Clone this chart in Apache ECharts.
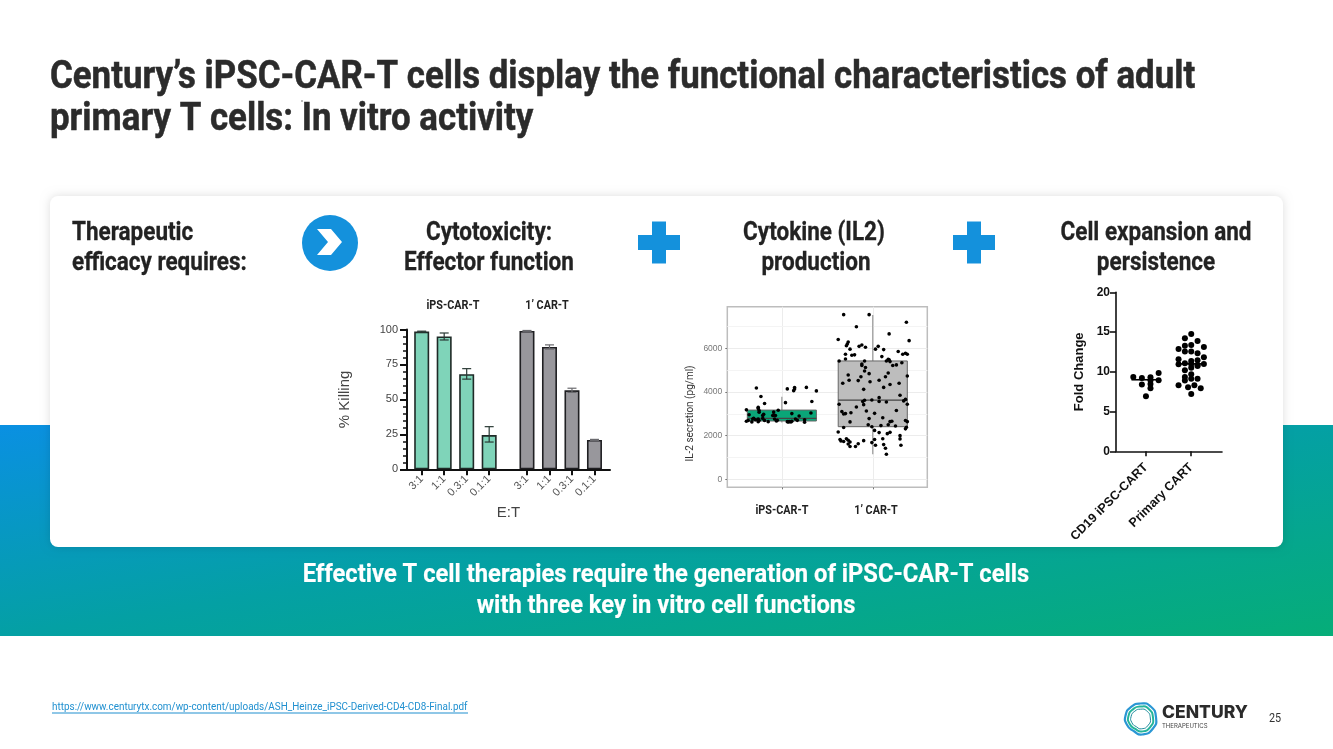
<!DOCTYPE html>
<html><head><meta charset="utf-8">
<style>html,body{margin:0;padding:0;background:#fff}#c{width:1333px;height:749px}</style>
<script src="https://cdn.jsdelivr.net/npm/echarts@6/dist/echarts.min.js"></script>
</head><body><div id="c"></div>
<script>
// ---- killing bar chart ----
const ratioLabels = ['3:1','1:1','0.3:1','0.1:1','3:1','1:1','0.3:1','0.1:1'];
const barPositions = [0,1,2,3,4.68,5.68,6.68,7.68];
const ipsKilling = [98.5,95,68,24.5];
const priKilling = [99,87.5,56.5,21];
const ipsErrLow = [98.2,92.5,64.5,19.5];
const ipsErrHigh = [98.8,97.5,72,30.5];
const priErrLow = [98.7,86,55,20.6];
const priErrHigh = [99.3,89,58,21.4];
// ---- IL-2 box plot ----
const boxGroups = [1,2];
const boxTicks = [0,2000,4000,6000];
const boxLow = [2600,1150];
const boxQ1 = [2670,2410];
const boxMedian = [2790,3630];
const boxQ3 = [3170,5420];
const boxHigh = [3780,7530];
const boxMinorLines = [1000,3000,5000,7000];
const il2Ips = [[.72,4180],[.77,3790],[.81,3470],[.74,3300],[.74,3240],[.75,3150],[.61,3180],[.64,2960],[.75,3070],[.80,2980],[.79,2920],[.69,2790],[.61,2660],[.63,2690],[.67,2630],[.68,2760],[.74,2760],[.74,2640],[.75,2690],[.81,2690],[.85,2640],[.91,3080],[.91,2950],[.90,2920],[.93,2920],[.96,3160],[1.04,3510],[1.06,4140],[1.14,4140],[1.14,4200],[1.13,4060],[1.27,4210],[1.38,4050],[1.33,3560],[1.32,3040],[1.19,2900],[1.11,3010],[1.15,2760],[1.17,2700],[1.11,2660],[1.10,2630],[1.06,2640],[.94,2670],[.92,2760],[.95,2700],[1.25,2730],[1.25,2610],[1.07,2630],[1.08,2640],[.71,2730],[.79,2790]];
const il2Pri = [[1.68,7540],[1.96,7540],[1.82,6990],[2.37,7190],[1.62,6400],[2.18,6660],[2.40,6350],[1.72,6200],[1.73,6290],[1.71,6120],[1.88,6150],[1.85,6090],[1.92,6050],[2.06,6090],[2.12,5940],[2.03,5960],[1.75,5960],[1.70,5730],[1.70,5510],[1.77,5680],[1.80,5700],[1.63,5420],[1.91,5420],[1.88,5280],[1.88,5210],[1.92,5120],[1.91,4960],[1.96,4840],[1.87,4700],[1.73,4780],[1.74,4540],[1.67,4400],[1.84,4520],[1.97,4470],[2.07,4540],[2.17,4870],[2.19,4340],[2.14,4700],[2.28,5850],[2.33,5730],[2.36,5770],[2.38,5730],[2.10,5620],[2.17,5500],[2.18,5470],[2.19,5390],[2.15,5420],[2.22,5210],[2.26,5240],[2.32,5340],[2.29,4400],[2.12,4210],[2.30,3850],[2.36,3660],[2.34,3590],[2.38,3440],[2.38,4730],[1.90,4120],[2.07,3740],[2.07,3560],[2.15,3540],[1.91,3620],[1.89,3560],[1.99,3630],[1.63,3440],[1.90,3420],[1.82,3310],[1.93,3130],[1.70,3010],[1.68,2990],[1.66,3100],[1.76,3050],[1.96,2780],[2.02,3020],[2.11,2820],[2.26,3150],[1.75,2630],[1.68,2370],[1.95,2500],[1.99,2410],[2.09,2460],[2.17,2500],[2.19,2640],[2.21,2660],[2.25,2440],[2.36,2690],[2.38,2640],[2.37,2380],[2.36,2310],[2.02,2240],[2.07,2140],[2.19,2150],[2.16,2090],[1.62,2170],[1.64,1820],[1.65,1760],[1.68,1730],[1.71,1860],[1.73,1790],[1.75,1710],[1.73,1620],[1.75,1500],[1.81,1500],[1.84,1630],[1.90,1770],[1.99,1680],[2.02,1820],[2.03,1560],[2.11,1860],[2.12,1590],[2.14,1420],[2.15,1150],[2.30,2000],[2.30,1850],[2.31,1560]];
// ---- fold change ----
const foldLabels = ['CD19 iPSC-CART','Primary CART'];
const foldCD19 = [[.72,9.35],[.91,9.22],[1.10,9.31],[1.28,9.85],[1.28,8.93],[.91,8.39],[1.10,8.47],[1.10,7.92],[1,6.92],[1.10,8.93]];
const foldPrimary = [[2,14.76],[1.86,14.21],[2.14,13.88],[1.86,13.29],[2,13.38],[2.28,13.12],[1.72,12.87],[1.86,12.54],[2,12.54],[2.14,12.33],[2.28,11.82],[1.72,11.57],[2,11.36],[2.14,11.45],[1.86,11.07],[1.72,10.94],[2,10.99],[2.14,10.86],[2.28,10.99],[1.86,10.19],[2,10.52],[2.14,10.73],[2,9.69],[1.86,9.35],[2,9.14],[2.14,9.14],[1.86,8.89],[1.72,8.30],[1.93,8.05],[2.07,8.30],[2.21,7.92],[2,7.21]];
const foldMedians = [[1,9],[2,11]];

const RC = 'Roboto', LS = '"Liberation Sans"';
function txt(t,x,y,size,o){o=o||{};const fill=o.c||'#222';const style={text:t,fontFamily:o.ff||RC,fontWeight:o.w||700,fontSize:size,fill:fill,align:o.a||'center',verticalAlign:'middle',letterSpacing:o.ls||0};
  if(o.bold){style.stroke=fill;style.lineWidth=o.bold;}
  return {type:'text',x:x,y:y,scaleX:o.sx===undefined?0.865:o.sx,rotation:o.rot||0,z:o.z||1,style:style};}
function plus(cx,cy){return [
  {type:'rect',z:1,shape:{x:cx-21,y:cy-7.5,width:42,height:15},style:{fill:'#1491dc'}},
  {type:'rect',z:1,shape:{x:cx-7,y:cy-21,width:14,height:42},style:{fill:'#1491dc'}}];}
function ring(cx,cy,r,c,w){
  const k=r/48;
  const pts=[[0,-48],[30,-40],[48,-5],[38,30],[5,48],[-20,38],[-42,18],[-46,-12],[-28,-38]].map(p=>[cx+p[0]*k,cy+p[1]*k]);
  return {type:'polygon',z:1,shape:{points:pts,smooth:0.6},style:{fill:'none',stroke:c,lineWidth:w}};
}

const graphics=[
  {type:'rect',z:-6,shape:{x:0,y:425,width:1333,height:211},
   style:{fill:new echarts.graphic.LinearGradient(0,0,0.0488,1.95,[{offset:0,color:'#0a90e2'},{offset:.5,color:'#04a0a4'},{offset:1,color:'#06ad78'}])}},
  {type:'rect',z:-5,shape:{x:50,y:196,width:1233,height:351,r:8},style:{fill:'#fff',shadowBlur:10,shadowColor:'rgba(0,0,0,0.13)'}},
  txt('Century\u2019s iPSC-CAR-T cells display the functional characteristics of adult',50,78,38,{a:'left',c:'#2b2b2b',sx:.917,bold:.5}),
  txt('primary T cells: In vitro activity',50,120,38,{a:'left',c:'#2b2b2b',sx:.917,bold:.5}),
  {type:'circle',z:1,shape:{cx:302,cy:101,r:.7},style:{fill:'#444'}},
  txt('Therapeutic',72,233,26,{a:'left',bold:.3}),
  txt('efficacy requires:',72,263,26,{a:'left',bold:.3}),
  {type:'circle',z:1,shape:{cx:330,cy:243,r:28},style:{fill:'#1491dc'}},
  {type:'polygon',z:1,shape:{points:[[317,229],[331,229],[342,242],[331,255],[317,255],[328,242]]},style:{fill:'#fff'}},
  txt('Cytotoxicity:',489,233,26,{bold:.3}),
  txt('Effector function',489,263,26,{bold:.3}),
  ...plus(659,242.5),
  txt('Cytokine (IL2)',814,233,26,{bold:.3}),
  txt('production',816,263,26,{bold:.3}),
  ...plus(974,242.5),
  txt('Cell expansion and',1156,233,26,{bold:.3}),
  txt('persistence',1156,263,26,{bold:.3}),
  txt('iPS-CAR-T',453,306,12.5),
  txt('1\u2019 CAR-T',547,306,12.5),
  txt('iPS-CAR-T',782,511,12.5),
  txt('1\u2019 CAR-T',876,511,12.5),
  txt('IL-2 secretion (pg/ml)',690,413.5,10,{w:400,sx:1,rot:Math.PI/2,c:'#333'}),
  txt('Effective T cell therapies require the generation of iPSC-CAR-T cells',666,575,26,{c:'#fff',sx:.912,bold:.2}),
  txt('with three key in vitro cell functions',666,606,26,{c:'#fff',sx:.912,bold:.2}),
  txt('https://www.centurytx.com/wp-content/uploads/ASH_Heinze_iPSC-Derived-CD4-CD8-Final.pdf',52,707,11.5,{a:'left',w:400,c:'#2090d0',sx:.862}),
  {type:'rect',z:1,shape:{x:52,y:712.5,width:416,height:1},style:{fill:'#2090d0'}},
  ring(1140.5,719,15.5,'#2a97d4',2.2),
  ring(1140.5,719,12.5,'#25b59a',2),
  ring(1140.5,719,9.8,'#1b8a9c',1),
  txt('CENTURY',1162,713,17,{a:'left',sx:1.03,w:800,ff:'Inter',c:'#2b2b2b'}),
  txt('THERAPEUTICS',1162,726,6,{a:'left',sx:1,w:400,ff:'Inter',ls:2.5,c:'#444'}),
  txt('25',1275,719,12,{sx:.9,w:400,c:'#333'})
];

function errRender(lowArr,highArr,color){
  return function(p,api){
    const x=api.value(0), a=api.coord([x,lowArr[p.dataIndex]]), b=api.coord([x,highArr[p.dataIndex]]);
    const st={stroke:color,lineWidth:1.2,fill:'none'};
    return {type:'group',children:[
      {type:'line',shape:{x1:a[0],y1:a[1],x2:b[0],y2:b[1]},style:st},
      {type:'line',shape:{x1:a[0]-4.5,y1:a[1],x2:a[0]+4.5,y2:a[1]},style:st},
      {type:'line',shape:{x1:b[0]-4.5,y1:b[1],x2:b[0]+4.5,y2:b[1]},style:st}]};
  };
}
function zip(xs,ys){return ys.map((y,i)=>[xs[i],y]);}
const ipsPos=barPositions.slice(0,4), priPos=barPositions.slice(4);
const boxFills=['#0aa678','#bdbdbd'];

const chart=echarts.init(document.getElementById('c'),null,{renderer:'canvas'});
chart.setOption({
  animation:false,
  backgroundColor:'#fff',
  graphic:{elements:graphics},
  grid:[
    {left:407,top:329.5,width:203,height:139.8},
    {left:727.3,top:306.7,width:200,height:180.6,show:true,borderColor:'#bdbdbd',borderWidth:1.5},
    {left:1116,top:292.3,width:106,height:159}
  ],
  xAxis:[
    {gridIndex:0,type:'value',min:-0.653,max:8.37,splitLine:{show:false},
     axisLine:{onZero:false,lineStyle:{color:'#111',width:2}},
     axisTick:{show:true,customValues:barPositions,length:6,lineStyle:{color:'#111',width:2}},
     axisLabel:{customValues:barPositions,rotate:45,color:'#555',fontFamily:LS,fontSize:11,margin:8,
       formatter:v=>ratioLabels[barPositions.indexOf(v)]},
     name:'E:T',nameLocation:'middle',nameGap:36,nameTextStyle:{color:'#444',fontFamily:LS,fontSize:15}},
    {gridIndex:1,type:'value',min:0.4,max:2.6,
     axisLine:{show:false,onZero:false},
     axisTick:{show:true,customValues:boxGroups,length:2,lineStyle:{color:'#777'}},
     axisLabel:{show:false,customValues:boxGroups},
     splitLine:{show:true,lineStyle:{color:'#ececec',width:1}}},
    {gridIndex:2,type:'value',min:0.338,max:2.68,splitLine:{show:false},
     axisLine:{onZero:false,lineStyle:{color:'#111',width:1.6}},
     axisTick:{show:true,customValues:boxGroups,length:5,lineStyle:{color:'#111',width:1.6}},
     axisLabel:{customValues:boxGroups,rotate:45,color:'#111',fontFamily:LS,fontWeight:700,fontSize:12.5,margin:14,
       formatter:v=>foldLabels[v-1]}}
  ],
  yAxis:[
    {gridIndex:0,type:'value',min:0,max:100,interval:25,splitLine:{show:false},
     axisLine:{show:true,onZero:false,lineStyle:{color:'#111',width:2}},
     axisTick:{show:true,length:7,lineStyle:{color:'#111',width:2}},
     minorTick:{show:true,splitNumber:5,length:4,lineStyle:{color:'#111',width:1.5}},
     axisLabel:{color:'#444',fontFamily:LS,fontSize:11,margin:9},
     name:'% Killing',nameLocation:'middle',nameGap:55,nameTextStyle:{color:'#444',fontFamily:LS,fontSize:15}},
    {gridIndex:1,type:'value',min:-366,max:7905,
     axisLine:{show:false,onZero:false},
     axisTick:{show:true,customValues:boxTicks,length:2,lineStyle:{color:'#777'}},
     axisLabel:{customValues:boxTicks,color:'#777',fontFamily:LS,fontSize:8.5,margin:5,formatter:v=>String(v)},
     splitLine:{show:true,lineStyle:{color:'#ececec',width:1}}},
    {gridIndex:2,type:'value',min:0,max:20,interval:5,splitLine:{show:false},
     axisLine:{show:true,onZero:false,lineStyle:{color:'#111',width:1.6}},
     axisTick:{show:true,length:6,lineStyle:{color:'#111',width:1.6}},
     axisLabel:{color:'#111',fontFamily:LS,fontWeight:700,fontSize:12,margin:6},
     name:'Fold Change',nameLocation:'middle',nameGap:30,nameTextStyle:{color:'#111',fontFamily:LS,fontWeight:700,fontSize:13}}
  ],
  series:[
    {type:'bar',name:'iPS-CAR-T',xAxisIndex:0,yAxisIndex:0,barWidth:15,barGap:'-100%',data:zip(ipsPos,ipsKilling),
     itemStyle:{color:'#7fd4b9',borderColor:'#1f2a27',borderWidth:1.6}},
    {type:'bar',name:'1\u2019 CAR-T',xAxisIndex:0,yAxisIndex:0,barWidth:15,barGap:'-100%',data:zip(priPos,priKilling),
     itemStyle:{color:'#98979c',borderColor:'#1f1f22',borderWidth:1.6}},
    {type:'custom',xAxisIndex:0,yAxisIndex:0,z:5,data:zip(ipsPos,ipsKilling),renderItem:errRender(ipsErrLow,ipsErrHigh,'#2a3a35')},
    {type:'custom',xAxisIndex:0,yAxisIndex:0,z:5,data:zip(priPos,priKilling),renderItem:errRender(priErrLow,priErrHigh,'#6a6a6e')},

    {type:'line',xAxisIndex:1,yAxisIndex:1,z:0,data:[],silent:true,
     markLine:{silent:true,z:0,symbol:'none',label:{show:false},lineStyle:{color:'#f4f4f4',width:1,type:'solid'},data:boxMinorLines.map(v=>({yAxis:v}))}},
    {type:'custom',xAxisIndex:1,yAxisIndex:1,z:3,data:zip(boxGroups,boxMedian),
     renderItem:function(p,api){
       const i=p.dataIndex,x=boxGroups[i],hw=0.38;
       const tl=api.coord([x-hw,boxQ3[i]]),br=api.coord([x+hw,boxQ1[i]]);
       const m=api.coord([x,boxMedian[i]]),lo=api.coord([x,boxLow[i]]),hi=api.coord([x,boxHigh[i]]);
       const ln={stroke:'#999',lineWidth:1.2};
       return {type:'group',children:[
         {type:'line',shape:{x1:hi[0],y1:hi[1],x2:hi[0],y2:tl[1]},style:ln},
         {type:'line',shape:{x1:lo[0],y1:lo[1],x2:lo[0],y2:br[1]},style:ln},
         {type:'rect',shape:{x:tl[0],y:tl[1],width:br[0]-tl[0],height:br[1]-tl[1]},style:{fill:boxFills[i],stroke:'#666',lineWidth:1}},
         {type:'line',shape:{x1:tl[0],y1:m[1],x2:br[0],y2:m[1]},style:{stroke:'#444',lineWidth:1.2}}]};
     }},
    {type:'scatter',xAxisIndex:1,yAxisIndex:1,z:4,symbolSize:3.6,data:il2Ips,itemStyle:{color:'#000',opacity:1}},
    {type:'scatter',xAxisIndex:1,yAxisIndex:1,z:4,symbolSize:3.6,data:il2Pri,itemStyle:{color:'#000',opacity:1}},

    {type:'scatter',xAxisIndex:2,yAxisIndex:2,z:4,symbolSize:6,data:foldCD19,itemStyle:{color:'#000',opacity:1}},
    {type:'scatter',xAxisIndex:2,yAxisIndex:2,z:4,symbolSize:6,data:foldPrimary,itemStyle:{color:'#000',opacity:1}},
    {type:'custom',xAxisIndex:2,yAxisIndex:2,z:5,data:foldMedians,
     renderItem:function(p,api){
       const a=api.coord([api.value(0)-0.32,api.value(1)]),b=api.coord([api.value(0)+0.32,api.value(1)]);
       return {type:'line',shape:{x1:a[0],y1:a[1],x2:b[0],y2:b[1]},style:{stroke:'#000',lineWidth:1.6}};
     }}
  ]
});
</script></body></html>
